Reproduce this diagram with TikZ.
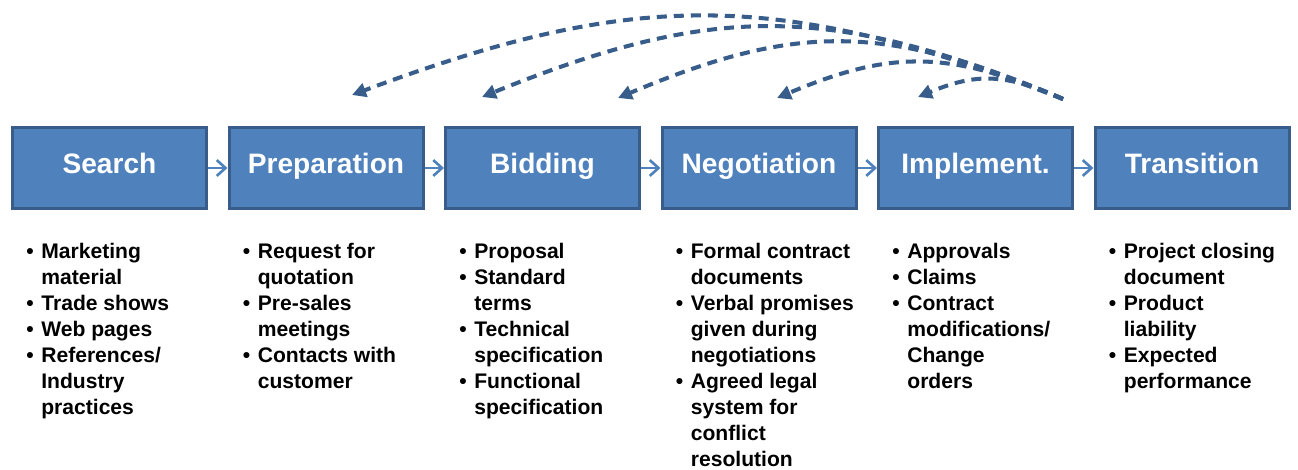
\documentclass[tikz,border=0pt]{standalone}
\usepackage{fontspec}
\setmainfont{Liberation Sans}
\usetikzlibrary{
    positioning,
    calc,
    arrows.meta,
}

\definecolor{stageblue}{HTML}{4F81BD}
\definecolor{stageedge}{HTML}{385D8A}

% bullet column + text column, baseline on the first row
\newcommand{\stagelist}[1]{\begin{tabular}[t]{@{}p{0.3cm}@{}l@{}}#1\end{tabular}}

\begin{document}
\begin{tikzpicture}[
    stage/.style={draw=stageedge, line width=0.06cm, fill=stageblue, text=white, font=\fontsize{16}{19}\selectfont\bfseries, text height=0.72em, text depth=0.06em, minimum width=3.88cm, minimum height=1.62cm, inner sep=0pt},
    items/.style={anchor=base west, inner sep=0pt, font=\fontsize{12}{14.8}\selectfont\bfseries},
    flow/.style={stageblue, line width=1.5pt, -{Straight Barb[length=5pt,width=9pt]}},
    feedback/.style={stageedge, line width=2.3pt, dash pattern=on 0.2cm off 0.14cm, -{Triangle[length=0.28cm,width=0.28cm]}},
    ]

\useasboundingbox (0,0) rectangle (25.96,-9.38);

\node[stage] at (2.19,-3.36) (search) {Search};
\node[stage, right=0.39cm of search] (prep) {Preparation};
\node[stage, right=0.39cm of prep] (bid) {Bidding};
\node[stage, right=0.39cm of bid] (nego) {Negotiation};
\node[stage, right=0.39cm of nego] (impl) {Implement.};
\node[stage, right=0.39cm of impl] (trans) {Transition};

\foreach \a/\b in {search/prep, prep/bid, bid/nego, nego/impl, impl/trans}
    \draw[flow] (\a.east) -- (\b.west);

\node[items] at ([xshift=0.3cm,yshift=-0.96cm]search.south west) (searchlist)
    {\stagelist{\textbullet & Marketing\\ & material\\ \textbullet & Trade shows\\
    \textbullet & Web pages\\ \textbullet & References/\\ & Industry\\ & practices}};

\node[items] at ([xshift=0.3cm,yshift=-0.96cm]prep.south west) (preplist)
    {\stagelist{\textbullet & Request for\\ & quotation\\ \textbullet & Pre-sales\\
    & meetings\\ \textbullet & Contacts with\\ & customer}};

\node[items] at ([xshift=0.3cm,yshift=-0.96cm]bid.south west) (bidlist)
    {\stagelist{\textbullet & Proposal\\ \textbullet & Standard\\ & terms\\
    \textbullet & Technical\\ & specification\\ \textbullet & Functional\\ & specification}};

\node[items] at ([xshift=0.3cm,yshift=-0.96cm]nego.south west) (negolist)
    {\stagelist{\textbullet & Formal contract\\ & documents\\ \textbullet & Verbal promises\\
    & given during\\ & negotiations\\ \textbullet & Agreed legal\\ & system for\\
    & conflict\\ & resolution}};

\node[items] at ([xshift=0.3cm,yshift=-0.96cm]impl.south west) (impllist)
    {\stagelist{\textbullet & Approvals\\ \textbullet & Claims\\ \textbullet & Contract\\
    & modifications/\\ & Change\\ & orders}};

\node[items] at ([xshift=0.3cm,yshift=-0.96cm]trans.south west) (translist)
    {\stagelist{\textbullet & Project closing\\ & document\\ \textbullet & Product\\
    & liability\\ \textbullet & Expected\\ & performance}};

% loops back from the end of the process
\coordinate (fb) at (21.26,-1.98);
\coordinate (fb1) at (7.04,-1.90);
\coordinate (fb2) at (9.64,-1.94);
\coordinate (fb3) at (12.36,-1.96);
\coordinate (fb4) at (15.54,-1.96);
\coordinate (fb5) at (18.36,-1.94);

\draw[feedback] (fb) .. controls (15.58,0.22) and (12.72,0.22) .. (fb1);
\draw[feedback] (fb) .. controls (16.62,-0.06) and (14.28,-0.06) .. (fb2);
\draw[feedback] (fb) .. controls (17.70,-0.46) and (15.92,-0.46) .. (fb3);
\draw[feedback] (fb) .. controls (18.98,-1.00) and (17.82,-1.00) .. (fb4);
\draw[feedback] (fb) .. controls (20.10,-1.46) and (19.52,-1.46) .. (fb5);

\end{tikzpicture}
\end{document}
